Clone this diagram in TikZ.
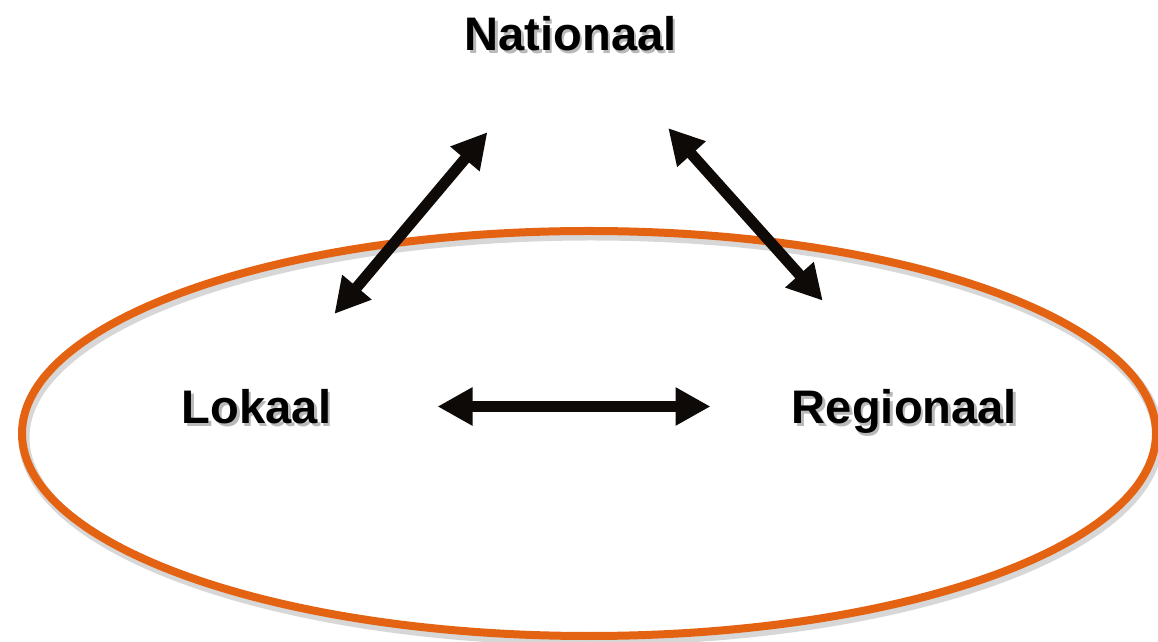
\documentclass[tikz,border=0pt]{standalone}
\usepackage{fontspec}
\setmainfont{Liberation Sans}
\usetikzlibrary{arrows.meta}
\definecolor{ringorange}{RGB}{228,99,18}
\definecolor{tipblack}{RGB}{13,10,8}

\begin{document}
\begin{tikzpicture}[
    lbl/.style={font=\bfseries\fontsize{13.4}{16}\selectfont, inner sep=0pt, text height=0.34cm, text depth=0pt},
    lblshadow/.style={lbl, text=black!50, opacity=0.55},
    dbl/.style={{Triangle[length=3.5mm,width=3.6mm]}-{Triangle[length=3.5mm,width=3.6mm]}, line width=1.1mm, tipblack}
]
\useasboundingbox (0,0) rectangle (11.58,6.41);

% Ring round the lower two levels
\draw[black!35, line width=1.1mm, opacity=0.45] (5.91,2.035) ellipse (5.67 and 2.025);
\draw[ringorange, line width=0.8mm] (5.89,2.075) ellipse (5.67 and 2.025);

% Levels
\node[lblshadow] (nat-sh) at (5.73,6.045) {Nationaal};
\node[lblshadow] (lok-sh) at (2.59,2.315) {Lokaal};
\node[lblshadow] (reg-sh) at (9.07,2.315) {Regionaal};

\node[lbl] (nat) at (5.705,6.075) {Nationaal};
\node[lbl] (lok) at (2.565,2.345) {Lokaal};
\node[lbl] (reg) at (9.045,2.345) {Regionaal};

% Links
\draw[dbl, shorten <=1.21cm, shorten >=1.29cm] (lok.center) -- (nat.center);
\draw[dbl, shorten <=1.27cm, shorten >=1.42cm] ([xshift=1.3mm]nat.center) -- ([xshift=1.3mm]reg.center);
\draw[dbl, shorten <=1.81cm, shorten >=1.94cm] (lok.center) -- (reg.center);
\end{tikzpicture}
\end{document}
